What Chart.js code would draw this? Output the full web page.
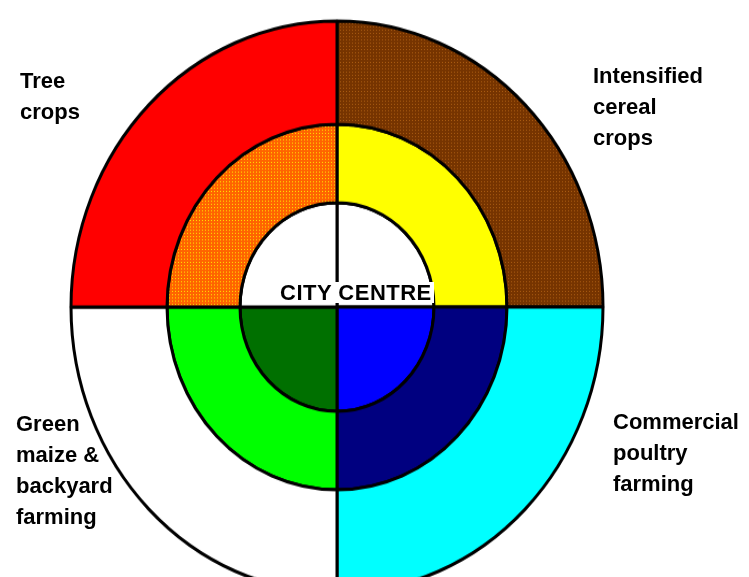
<!DOCTYPE html>
<html>
<head>
<meta charset="utf-8">
<script src="https://cdn.jsdelivr.net/npm/chart.js@4/dist/chart.umd.min.js"></script>
<style>
html, body { margin:0; padding:0; background:#fff; width:749px; height:577px; overflow:hidden; }
#wrap { position:absolute; left:0; top:0; width:749px; height:577px; }
#c { position:absolute; left:0; top:0; transform-origin:0 307px; transform:scaleY(1.075); }
.lbl { position:absolute; font-family:"Liberation Sans", Arial, sans-serif; font-weight:bold;
       font-size:22px; line-height:31px; color:#000; white-space:pre; }
#city { position:absolute; font-family:"Liberation Sans", Arial, sans-serif; font-weight:bold;
        font-size:22px; line-height:21px; letter-spacing:0.5px; color:#000; background:#fff; padding:0 2px; white-space:pre; }
</style>
</head>
<body>
<div id="wrap">
  <canvas id="c" width="749" height="577"></canvas>
</div>
<script>
// ---- data ----
// quadrants, clockwise from 12 o'clock
const quadrants = ['North-east', 'South-east', 'South-west', 'North-west'];
const zoneLabels = ['Intensified\ncereal\ncrops', 'Commercial\npoultry\nfarming', 'Green\nmaize &\nbackyard\nfarming', 'Tree\ncrops'];
const centreLabel = 'CITY CENTRE';
const outerRing  = [25, 25, 25, 25];
const middleRing = [25, 25, 25, 25];
const innerRing  = [25, 25, 25, 25];

// ---- styles ----
function dither(base, dot) {
  const p = document.createElement('canvas');
  p.width = 3; p.height = 3;
  const g = p.getContext('2d');
  g.fillStyle = base; g.fillRect(0, 0, 3, 3);
  g.fillStyle = dot; g.fillRect(1, 1, 1, 1);
  return g.createPattern(p, 'repeat');
}
const ctx = document.getElementById('c').getContext('2d');
const orange = dither('#FF6400', '#FFE000');
const brown = dither('#763400', '#A85A10');

const outerColors  = [brown, '#00FFFF', '#FFFFFF', '#FF0000'];
const middleColors = ['#FFFF00', '#000080', '#00FF00', orange];
const innerColors  = ['#FFFFFF', '#0000FF', '#007000', '#FFFFFF'];

const ringStyle = { borderColor:'#000000', borderWidth:3, borderAlign:'center' };

new Chart(ctx, {
  type: 'pie',
  data: {
    labels: quadrants,
    datasets: [
      Object.assign({ label:'Outer zone',  data: outerRing,  backgroundColor: outerColors,  weight: 96 }, ringStyle),
      Object.assign({ label:'Middle zone', data: middleRing, backgroundColor: middleColors, weight: 73 }, ringStyle),
      Object.assign({ label:'Inner zone',  data: innerRing,  backgroundColor: innerColors,  weight: 97 }, ringStyle)
    ]
  },
  options: {
    responsive: false,
    animation: false,
    events: [],
    radius: 266,
    layout: { padding: { left: 0, right: 75, top: 37, bottom: 0 } },
    plugins: { legend: { display:false }, tooltip: { enabled:false }, title: { display:false } }
  }
});

// ---- text labels ----
const labelPos = [ {left:593, top:60}, {left:613, top:406}, {left:16, top:408}, {left:20, top:65} ];
const wrap = document.getElementById('wrap');
zoneLabels.forEach((t, i) => {
  const d = document.createElement('div');
  d.className = 'lbl';
  d.textContent = t;
  d.style.left = labelPos[i].left + 'px';
  d.style.top = labelPos[i].top + 'px';
  wrap.appendChild(d);
});
const c = document.createElement('div');
c.id = 'city';
c.textContent = centreLabel;
c.style.left = '278px';
c.style.top = '282px';
wrap.appendChild(c);
</script>
</body>
</html>
